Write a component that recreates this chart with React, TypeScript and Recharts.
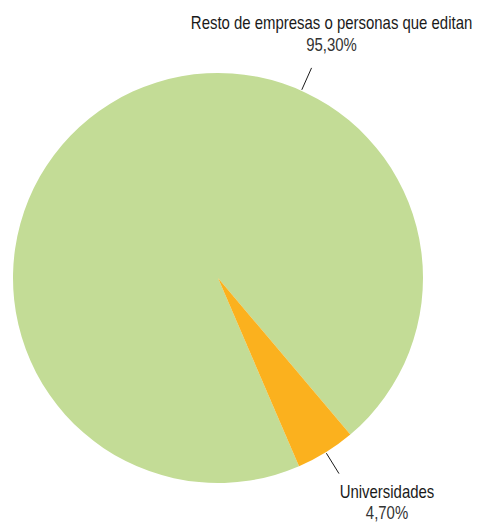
import React from 'react';
import { PieChart, Pie, Cell } from 'recharts';

const categories = ['Resto de empresas o personas que editan', 'Universidades'];
const values = [95.3, 4.7];
const valueLabels = ['95,30%', '4,70%'];
const colors = ['#C3DC96', '#FBB11E'];

const data = categories.map((name, i) => ({ name, value: values[i], label: valueLabels[i] }));

const RAD = Math.PI / 180;
const FONT = '"Liberation Sans", Arial, sans-serif';

const renderLabel = (props: any) => {
  const { cx, cy, outerRadius, midAngle, index } = props;
  const angle = index === 0 ? 66 : midAngle;
  const cos = Math.cos(-angle * RAD);
  const sin = Math.sin(-angle * RAD);
  const sx = cx + (outerRadius + 1) * cos;
  const sy = cy + (outerRadius + 1) * sin;
  const ex = cx + (outerRadius + 25) * cos;
  const ey = cy + (outerRadius + 25) * sin;
  const d = data[index];
  const tx = index === 0 ? ex + 20 : ex + 48;
  const y1 = index === 0 ? ey - 39 : ey + 24;
  const y2 = index === 0 ? ey - 17 : ey + 45.5;
  return (
    <g key={`lbl-${index}`}>
      <line x1={sx} y1={sy} x2={ex} y2={ey} stroke="#1a1a1a" strokeWidth={1} />
      <g transform={`translate(${tx},0) scale(0.83,1)`}>
        <text x={0} y={y1} textAnchor="middle" fill="#1a1a1a" fontSize={18} fontFamily={FONT}>{d.name}</text>
        <text x={0} y={y2} textAnchor="middle" fill="#333" fontSize={18} fontFamily={FONT}>{d.label}</text>
      </g>
    </g>
  );
};

export default function App() {
  return (
    <div style={{ position: 'absolute', left: 0, top: 0, width: 483, height: 523, background: '#fff' }}>
      <PieChart width={483} height={523} margin={{ top: 0, right: 0, bottom: 0, left: 0 }}>
        <Pie
          data={data}
          dataKey="value"
          nameKey="name"
          cx={218}
          cy={278}
          outerRadius={205}
          startAngle={-49.8}
          endAngle={310.2}
          stroke="none"
          label={renderLabel}
          labelLine={false}
          isAnimationActive={false}
        >
          {data.map((d, i) => (
            <Cell key={d.name} fill={colors[i]} />
          ))}
        </Pie>
      </PieChart>
    </div>
  );
}
